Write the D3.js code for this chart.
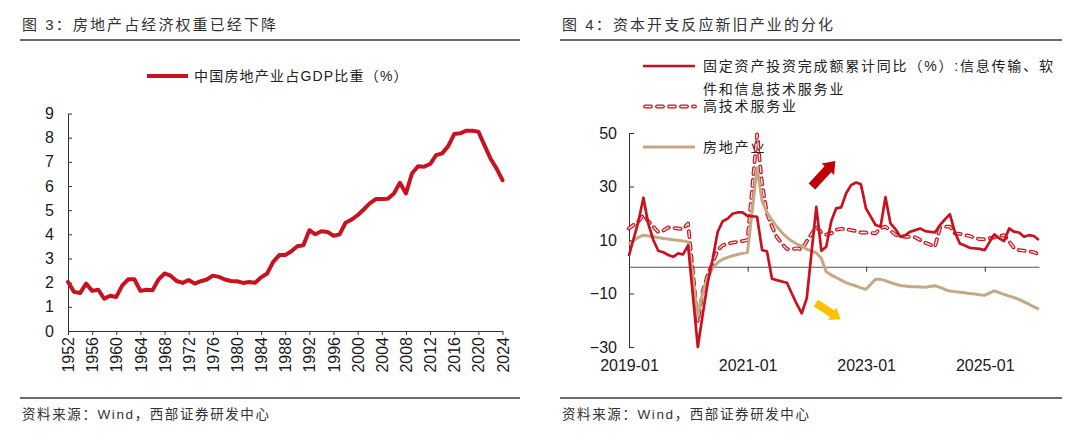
<!DOCTYPE html>
<html>
<head>
<meta charset="utf-8">
<script src="https://cdn.jsdelivr.net/npm/d3@7"></script>
<style>
  body { margin: 0; background: #fff; }
  svg text { font-family: "Liberation Sans", "Noto Sans CJK SC", sans-serif; }
</style>
</head>
<body>
<svg id="chart" width="1080" height="442"></svg>
<script>
// ---------- left panel: real estate share of GDP, 1952-2024 ----------
const years = d3.range(1952, 2025);
const gdpShare = [
  2.03, 1.62, 1.57, 1.96, 1.66, 1.71, 1.34, 1.46, 1.41, 1.89,
  2.14, 2.14, 1.66, 1.71, 1.69, 2.13, 2.38, 2.29, 2.07, 1.99,
  2.11, 1.96, 2.06, 2.13, 2.29, 2.24, 2.13, 2.07, 2.06, 1.99,
  2.03, 2.00, 2.22, 2.38, 2.86, 3.14, 3.14, 3.30, 3.51, 3.55,
  4.17, 4.00, 4.13, 4.10, 3.94, 4.00, 4.48, 4.61, 4.79, 5.03,
  5.28, 5.46, 5.46, 5.47, 5.69, 6.13, 5.69, 6.52, 6.82, 6.80,
  6.91, 7.28, 7.35, 7.65, 8.15, 8.18, 8.29, 8.29, 8.25, 7.69,
  7.14, 6.73, 6.24
];
const yearTicks = d3.range(1952, 2025, 4);

// ---------- right panel: FAI cumulative YoY by industry ----------
const months = [
  "2018-12",
  "2019-02","2019-03","2019-04","2019-05","2019-06","2019-07","2019-08","2019-09","2019-10","2019-11","2019-12",
  "2020-02","2020-03","2020-04","2020-05","2020-06","2020-07","2020-08","2020-09","2020-10","2020-11","2020-12",
  "2021-02","2021-03","2021-04","2021-05","2021-06","2021-07","2021-08","2021-09","2021-10","2021-11","2021-12",
  "2022-02","2022-03","2022-04","2022-05","2022-06","2022-07","2022-08","2022-09","2022-10","2022-11","2022-12",
  "2023-02","2023-03","2023-04","2023-05","2023-06","2023-07","2023-08","2023-09","2023-10","2023-11","2023-12",
  "2024-02","2024-03","2024-04","2024-05","2024-06","2024-07","2024-08","2024-09","2024-10","2024-11","2024-12",
  "2025-02","2025-03","2025-04","2025-05","2025-06","2025-07","2025-08","2025-09","2025-10","2025-11"
];
const itServices = [
  4.0,
  17, 25.8, 16, 10, 6.0, 5.4, 4.4, 3.7, 5.0, 4.6, 8.0,
  -30, -17.5, -6, 3, 13, 17, 18, 19.8, 20.3, 20.3, 19,
  18.7, 6.2, 5.8, -4.5, -5.0, -5.5, -6, -10, -14, -17.4, -11.8,
  22.4, 6, 7.5, 17, 21.8, 22.2, 27.5, 30.5, 31.5, 30.8, 21.8,
  15.6, 15.0, 26, 16.2, 14.1, 11.2, 11.8, 13.1, 13.7, 14.3, 13.3,
  12.8, 15.6, 17.7, 19.6, 13.1, 8.7, 7.9, 7.1, 6.9, 6.7, 6.2,
  12.1, 10.6, 9.6, 14.3, 13.1, 12.8, 11.2, 11.8, 11.5, 10.0
];
const hiTechServices = [
  14.3,
  17, 19.3, 17, 15, 13, 13.5, 14.7, 14.5, 14.3, 14, 16.2,
  -20.5, -9, -3, 1.5, 6.2, 8, 8.7, 9, 9.3, 9.6, 10,
  49.5, 31, 20, 15, 11, 8.7, 6.6, 6.6, 6.9, 6.5, 9.5,
  15, 12.8, 12, 12.5, 13.8, 14.2, 14, 13.7, 13.3, 12.8, 12.8,
  12.5, 14.5, 15, 13.5, 12, 11.5, 11.2, 11.2, 11, 10, 9,
  7.5, 14.5, 15, 15, 12.5, 12.3, 11.8, 11.5, 10.8, 10.3, 10.3,
  11, 11.5, 11.8, 9.5, 7, 6.2, 6, 5.8, 5.4, 4.6
];
const realEstate = [
  8.5,
  11, 11.8, 11.5, 11.2, 10.9, 10.6, 10.4, 10.1, 9.9, 9.6, 9.3,
  -18, -9.5, -4, -0.5, 1.6, 2.8, 3.5, 4.1, 4.6, 5, 5.4,
  37, 24.5, 20.3, 17.4, 15, 12.8, 11, 9.6, 8.5, 7.7, 6.6,
  5.2, 3.1, -1.9, -3.1, -4, -5, -6, -6.6, -7.2, -7.9, -8.4,
  -4.7, -4.7, -5.2, -5.9, -6.5, -7, -7.2, -7.5, -7.5, -7.6, -7.7,
  -7.1, -7.7, -8.5, -9.1, -9.3, -9.5, -9.7, -10, -10.2, -10.5, -10.7,
  -9, -9.7, -10.3, -11, -11.5, -12.2, -13.1, -14, -15, -15.8
];
const rightYTicks = [50, 30, 10, -10, -30];
const rightXTicks = ["2019-01", "2021-01", "2023-01", "2025-01"];

const titleLeft = "图 3：房地产占经济权重已经下降";
const titleRight = "图 4：资本开支反应新旧产业的分化";
const legendLeft = "中国房地产业占GDP比重（%）";
const legendRight = ["固定资产投资完成额累计同比（%）:信息传输、软", "件和信息技术服务业", "高技术服务业", "房地产业"];
const source = "资料来源：Wind，西部证券研发中心";

const RED = "#c8121f", TAN = "#c6a984";

const svg = d3.select("#chart");
svg.append("rect").attr("width", 1080).attr("height", 442).attr("fill", "#fff");

// panel frames: title, rules, source
[{ x: 20, w: 500, title: titleLeft }, { x: 560, w: 502, title: titleRight }].forEach(p => {
  svg.append("text").attr("x", p.x + 2).attr("y", 30)
    .attr("font-size", 15).attr("letter-spacing", 2.1).attr("fill", "#333").text(p.title);
  svg.append("line").attr("x1", p.x).attr("x2", p.x + p.w).attr("y1", 40).attr("y2", 40)
    .attr("stroke", "#3a3a3a").attr("stroke-width", 1.6);
  svg.append("line").attr("x1", p.x).attr("x2", p.x + p.w).attr("y1", 398).attr("y2", 398)
    .attr("stroke", "#3a3a3a").attr("stroke-width", 1.6);
  svg.append("text").attr("x", p.x + 2).attr("y", 419)
    .attr("font-size", 13.5).attr("letter-spacing", 1.6).attr("fill", "#333").text(source);
});

function styleAxis(g, size) {
  g.select(".domain").attr("stroke", "#333");
  g.selectAll(".tick line").attr("stroke", "#333");
  g.selectAll(".tick text").attr("font-size", size).attr("fill", "#1a1a1a")
    .style("font-family", '"Liberation Sans", sans-serif');
}

// ---------- left chart ----------
const xL = d3.scaleLinear().domain([1952, 2024]).range([68, 502.5]);
const yL = d3.scaleLinear().domain([0, 9]).range([331, 113.5]);

const left = svg.append("g");
left.append("g").attr("transform", "translate(68,0)")
  .call(d3.axisLeft(yL).ticks(9).tickSizeInner(-4).tickSizeOuter(0).tickPadding(14))
  .call(g => styleAxis(g, 16));

left.append("g").attr("transform", "translate(0,331)")
  .call(d3.axisBottom(xL).tickValues(yearTicks).tickFormat(d3.format("d")).tickSizeInner(4).tickSizeOuter(0))
  .call(g => styleAxis(g, 16))
  .call(g => g.selectAll(".tick text")
    .attr("transform", "rotate(-90)").attr("x", -6).attr("y", 0)
    .attr("dy", "0.35em").attr("text-anchor", "end"));

left.append("path").datum(gdpShare)
  .attr("fill", "none").attr("stroke", RED).attr("stroke-width", 4)
  .attr("stroke-linejoin", "round").attr("stroke-linecap", "round")
  .attr("d", d3.line().x((d, i) => xL(years[i])).y(d => yL(d)));

left.append("line").attr("x1", 147).attr("x2", 188).attr("y1", 76).attr("y2", 76)
  .attr("stroke", RED).attr("stroke-width", 4);
left.append("text").attr("x", 194).attr("y", 76).attr("dy", "0.35em")
  .attr("font-size", 14).attr("letter-spacing", 1.2).attr("fill", "#222").text(legendLeft);

// ---------- right chart ----------
const parseMonth = d3.timeParse("%Y-%m");
const monthEnd = s => d3.timeDay.offset(d3.timeMonth.offset(parseMonth(s), 1), -1);
const dates = months.map(monthEnd);

const xR = d3.scaleTime().domain([parseMonth("2019-01"), parseMonth("2025-12")]).range([629, 1039]);
const yR = d3.scaleLinear().domain([-30, 50]).range([347, 133]);

const right = svg.append("g");

// legend (under the lines, as in the source)
function dashedStroke(sel) {
  sel.append("path").attr("class", "outer").attr("fill", "none").attr("stroke", RED)
    .attr("stroke-width", 3.8).attr("stroke-linecap", "round").attr("stroke-dasharray", "6 6");
  sel.append("path").attr("class", "inner").attr("fill", "none").attr("stroke", "#fbe4e4")
    .attr("stroke-width", 1.4).attr("stroke-linecap", "round").attr("stroke-dasharray", "6 6");
}
const legendY = [66, 89.5, 106.5, 147];
right.append("line").attr("x1", 643).attr("x2", 695).attr("y1", legendY[0]).attr("y2", legendY[0])
  .attr("stroke", RED).attr("stroke-width", 2.6);
right.append("g").call(dashedStroke).selectAll("path").attr("d", `M645,${legendY[2]}H695`);
right.append("line").attr("x1", 643).attr("x2", 695).attr("y1", legendY[3]).attr("y2", legendY[3])
  .attr("stroke", TAN).attr("stroke-width", 3.2);
legendRight.forEach((t, i) => {
  right.append("text").attr("x", 703).attr("y", legendY[i]).attr("dy", "0.35em")
    .attr("font-size", 14).attr("letter-spacing", 1.8).attr("fill", "#222").text(t);
});

// axes
right.append("g").attr("transform", "translate(629,0)")
  .call(d3.axisLeft(yR).tickValues(rightYTicks).tickSizeInner(-5).tickSizeOuter(0).tickPadding(12))
  .call(g => styleAxis(g, 16));

right.append("g").attr("transform", `translate(0,${yR(0)})`)
  .call(d3.axisBottom(xR).tickValues(rightXTicks.map(parseMonth)).tickFormat(d3.timeFormat("%Y-%m"))
    .tickSizeInner(5).tickSizeOuter(0))
  .call(g => styleAxis(g, 16))
  .call(g => g.select(".domain").attr("stroke", "#555"))
  .call(g => g.selectAll(".tick text").attr("dy", null).attr("y", yR(-30) - yR(0) + 24));

// series
const lineR = d3.line().x((d, i) => xR(dates[i])).y(d => yR(d));
const dash = right.append("g").call(dashedStroke);
dash.selectAll("path").datum(hiTechServices).attr("d", lineR).attr("stroke-linejoin", "round");

right.append("path").datum(realEstate)
  .attr("fill", "none").attr("stroke", TAN).attr("stroke-width", 3)
  .attr("stroke-linejoin", "round").attr("d", lineR);

right.append("path").datum(itServices)
  .attr("fill", "none").attr("stroke", RED).attr("stroke-width", 2.7)
  .attr("stroke-linejoin", "round").attr("d", lineR);

// trend arrows, placed in data coordinates
const arrows = [
  { from: ["2022-02-01", 30], to: ["2022-06-25", 39.5], color: "#c00000", body: 9, head: 17, headLen: 11 },
  { from: ["2022-02-25", -13.6], to: ["2022-07-28", -19.6], color: "#ffc000", body: 8, head: 15, headLen: 10 }
];
const parseDay = d3.timeParse("%Y-%m-%d");
arrows.forEach(a => {
  const p0 = [xR(parseDay(a.from[0])), yR(a.from[1])];
  const p1 = [xR(parseDay(a.to[0])), yR(a.to[1])];
  const dx = p1[0] - p0[0], dy = p1[1] - p0[1], L = Math.hypot(dx, dy);
  const ux = dx / L, uy = dy / L, nx = -uy, ny = ux;
  const bx = p1[0] - ux * a.headLen, by = p1[1] - uy * a.headLen;
  const pts = [
    [p0[0] + nx * a.body / 2, p0[1] + ny * a.body / 2],
    [bx + nx * a.body / 2, by + ny * a.body / 2],
    [bx + nx * a.head / 2, by + ny * a.head / 2],
    p1,
    [bx - nx * a.head / 2, by - ny * a.head / 2],
    [bx - nx * a.body / 2, by - ny * a.body / 2],
    [p0[0] - nx * a.body / 2, p0[1] - ny * a.body / 2]
  ];
  right.append("polygon").attr("points", pts.map(p => p.join(",")).join(" ")).attr("fill", a.color);
});
</script>
</body>
</html>
